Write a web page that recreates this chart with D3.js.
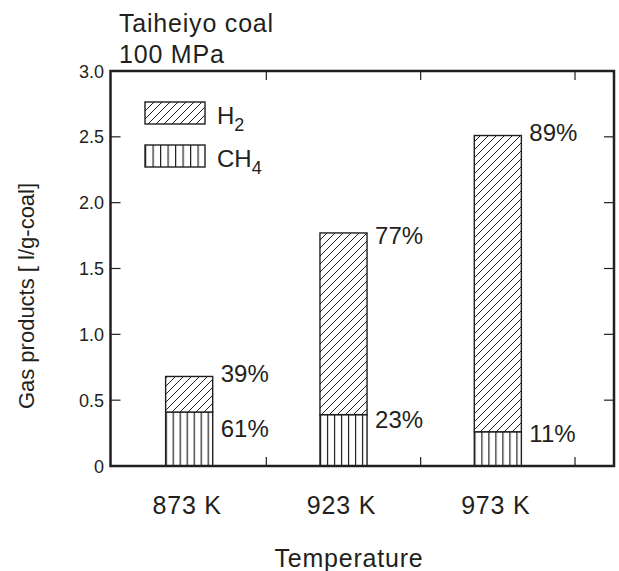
<!DOCTYPE html>
<head>
  <meta charset="utf-8">
  <script src="https://d3js.org/d3.v7.min.js"></script>
  <style>
    body { margin: 0; background: #fff; }
    text {
      font-family: 'Liberation Sans', Arial, sans-serif;
      fill: #231f20;
    }
    .big {
      font-size: 25px;
      letter-spacing: 0.8px;
    }
  </style>
</head>

<body>
  <div id="chart"></div>

  <script>
    // data
    var temps = ["873 K", "923 K", "973 K"];
    var ch4 = [0.41, 0.39, 0.26];      // l/g-coal
    var h2 = [0.27, 1.38, 2.25];       // l/g-coal, stacked on CH4
    var h2Pct = ["39%", "77%", "89%"];
    var ch4Pct = ["61%", "23%", "11%"];
    var yTicks = [0, 0.5, 1.0, 1.5, 2.0, 2.5, 3.0];

    var width = 619, height = 571;
    var frame = {left: 110.5, right: 614, top: 71, bottom: 466};

    var svg = d3.select("#chart")
      .append("svg")
      .attr("width", width)
      .attr("height", height);

    var defs = svg.append("defs");

    // diagonal hatch for H2
    var diag = defs.append("pattern")
      .attr("id", "diag")
      .attr("patternUnits", "userSpaceOnUse")
      .attr("width", 8)
      .attr("height", 8);
    diag.append("rect").attr("width", 8).attr("height", 8).attr("fill", "#fff");
    diag.append("path")
      .attr("d", "M-2,2 L2,-2 M0,8 L8,0 M6,10 L10,6")
      .attr("stroke", "#231f20")
      .attr("stroke-width", 1);

    // vertical lines for CH4
    var vert = defs.append("pattern")
      .attr("id", "vert")
      .attr("patternUnits", "userSpaceOnUse")
      .attr("width", 7)
      .attr("height", 10);
    vert.append("rect").attr("width", 7).attr("height", 10).attr("fill", "#fff");
    vert.append("line")
      .attr("x1", 0.5).attr("x2", 0.5)
      .attr("y1", 0).attr("y2", 10)
      .attr("stroke", "#231f20")
      .attr("stroke-width", 1.4);

    var x = d3.scaleBand()
      .domain(temps)
      .range([112, 575])
      .padding(0);

    var y = d3.scaleLinear()
      .domain([0, 3])
      .range([frame.bottom, frame.top]);

    var barW = x.bandwidth() * 0.305;
    var barX = d => x(d) + (x.bandwidth() - barW) / 2;

    // bars
    var bars = svg.append("g");
    temps.forEach(function (t, i) {
      var bx = barX(t);
      // align the vertical pattern with the left edge of each bar
      defs.append("pattern")
        .attr("id", "vert" + i)
        .attr("href", "#vert")
        .attr("patternTransform", "translate(" + bx + ",0)");

      bars.append("rect")
        .attr("x", bx)
        .attr("y", y(ch4[i]))
        .attr("width", barW)
        .attr("height", y(0) - y(ch4[i]))
        .attr("fill", "url(#vert" + i + ")")
        .attr("stroke", "#231f20")
        .attr("stroke-width", 1.4);

      bars.append("rect")
        .attr("x", bx)
        .attr("y", y(ch4[i] + h2[i]))
        .attr("width", barW)
        .attr("height", y(ch4[i]) - y(ch4[i] + h2[i]))
        .attr("fill", "url(#diag)")
        .attr("stroke", "#231f20")
        .attr("stroke-width", 1.4);
    });

    // percentage labels (small manual nudges like in the original)
    var h2Dy = [6, 11, 5];
    var ch4Dy = [25, 13, 10];
    temps.forEach(function (t, i) {
      var lx = barX(t) + barW + 8;
      svg.append("text")
        .attr("x", lx)
        .attr("y", y(ch4[i] + h2[i]) + h2Dy[i])
        .style("font-size", "24px")
        .text(h2Pct[i]);
      svg.append("text")
        .attr("x", lx)
        .attr("y", y(ch4[i]) + ch4Dy[i])
        .style("font-size", "24px")
        .text(ch4Pct[i]);
    });

    // frame
    svg.append("rect")
      .attr("x", frame.left)
      .attr("y", frame.top)
      .attr("width", frame.right - frame.left)
      .attr("height", frame.bottom - frame.top)
      .attr("fill", "none")
      .attr("stroke", "#231f20")
      .attr("stroke-width", 2.5);

    // y ticks (inward on both sides)
    var inner = yTicks.filter(d => d > 0 && d < 3);
    svg.append("g").selectAll("line")
      .data(inner).join("line")
      .attr("x1", frame.left).attr("x2", frame.left + 10)
      .attr("y1", y).attr("y2", y)
      .attr("stroke", "#231f20").attr("stroke-width", 1.2);
    svg.append("g").selectAll("line")
      .data(inner).join("line")
      .attr("x1", frame.right).attr("x2", frame.right - 10)
      .attr("y1", y).attr("y2", y)
      .attr("stroke", "#231f20").attr("stroke-width", 1.2);

    svg.append("g").selectAll("text")
      .data(yTicks).join("text")
      .attr("x", 104)
      .attr("y", d => y(d) + 6.5)
      .attr("text-anchor", "end")
      .style("font-size", "18px")
      .text(d => d === 0 ? "0" : d.toFixed(1));

    // x ticks at band boundaries, top and bottom
    var xb = temps.map(t => x(t) + x.bandwidth());
    svg.append("g").selectAll("line")
      .data(xb).join("line")
      .attr("x1", d => d).attr("x2", d => d)
      .attr("y1", frame.bottom).attr("y2", frame.bottom - 9)
      .attr("stroke", "#231f20").attr("stroke-width", 1.2);
    svg.append("g").selectAll("line")
      .data(xb).join("line")
      .attr("x1", d => d).attr("x2", d => d)
      .attr("y1", frame.top).attr("y2", frame.top + 9)
      .attr("stroke", "#231f20").attr("stroke-width", 1.2);

    svg.append("g").selectAll("text")
      .data(temps).join("text")
      .attr("class", "big")
      .attr("x", d => x(d) + x.bandwidth() / 2 - 2)
      .attr("y", 514)
      .attr("text-anchor", "middle")
      .text(d => d);

    // axis titles
    svg.append("text")
      .attr("class", "big")
      .attr("x", 349)
      .attr("y", 567)
      .attr("text-anchor", "middle")
      .text("Temperature");

    svg.append("text")
      .attr("transform", "translate(34,296) rotate(-90)")
      .attr("text-anchor", "middle")
      .style("font-size", "22px")
      .text("Gas products [ l/g-coal]");

    svg.append("text")
      .attr("class", "big")
      .attr("x", 119).attr("y", 32)
      .text("Taiheiyo coal");
    svg.append("text")
      .attr("class", "big")
      .attr("x", 119).attr("y", 63)
      .text("100 MPa");

    // legend
    var legend = [
      {fill: "url(#diag)", name: "H", sub: "2", y: 102},
      {fill: "url(#vertL)", name: "CH", sub: "4", y: 145}
    ];
    defs.append("pattern")
      .attr("id", "vertL")
      .attr("href", "#vert")
      .attr("width", 7.5)
      .attr("patternTransform", "translate(145,0)");

    var lg = svg.append("g").selectAll("g")
      .data(legend).join("g");
    lg.append("rect")
      .attr("x", 145)
      .attr("y", d => d.y)
      .attr("width", 60)
      .attr("height", 22)
      .attr("fill", d => d.fill)
      .attr("stroke", "#231f20")
      .attr("stroke-width", 1.4);
    var lt = lg.append("text")
      .attr("x", 217)
      .attr("y", d => d.y + 22)
      .style("font-size", "24px");
    lt.append("tspan").text(d => d.name);
    lt.append("tspan")
      .attr("dy", 7)
      .style("font-size", "18px")
      .text(d => d.sub);
  </script>
</body>
